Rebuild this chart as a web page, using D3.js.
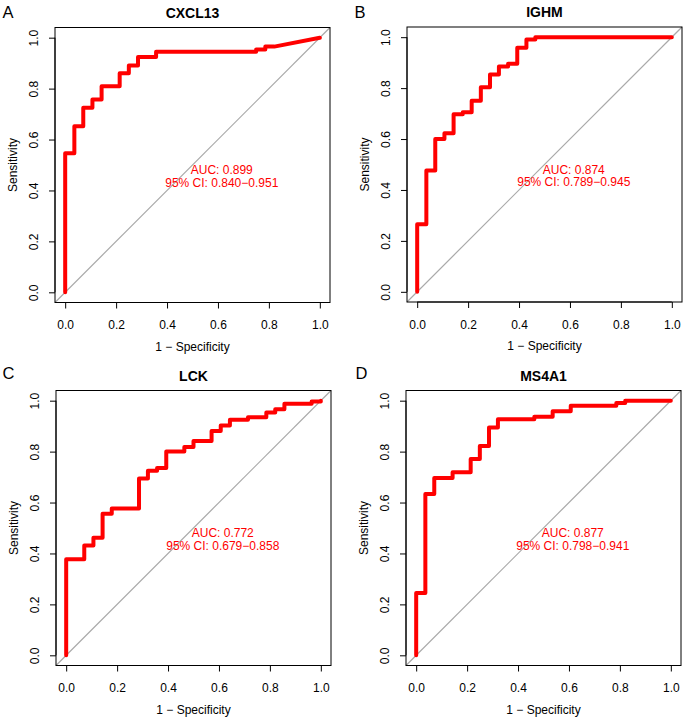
<!DOCTYPE html>
<html>
<head>
<meta charset="utf-8">
<script src="https://cdn.jsdelivr.net/npm/d3@7"></script>
<style>
  html, body { margin: 0; padding: 0; background: #fff; }
  svg { display: block; }
  text { font-family: "Liberation Sans", Arial, Helvetica, sans-serif; }
</style>
</head>
<body>
<div id="chart"></div>
<script>
// ---------- data ----------
const panelLetters = ["A", "B", "C", "D"];
const genes = ["CXCL13", "IGHM", "LCK", "MS4A1"];
const aucLabels = ["AUC: 0.899", "AUC: 0.874", "AUC: 0.772", "AUC: 0.877"];
const ciLabels = ["95% CI: 0.840\u22120.951", "95% CI: 0.789\u22120.945", "95% CI: 0.679\u22120.858", "95% CI: 0.798\u22120.941"];
const tickValues = [0, 0.2, 0.4, 0.6, 0.8, 1.0];
const tickLabels = ["0.0", "0.2", "0.4", "0.6", "0.8", "1.0"];
const xTitle = "1 \u2212 Specificity";
const yTitle = "Sensitivity";

// ROC curve vertices (1 - specificity, sensitivity)
const fprCXCL13 = [0,0,0.036,0.036,0.071,0.071,0.107,0.107,0.143,0.143,0.214,0.214,0.25,0.25,0.286,0.286,0.357,0.357,0.75,0.75,0.786,0.786,0.821,1];
const tprCXCL13 = [0,0.546,0.546,0.652,0.652,0.725,0.725,0.757,0.757,0.809,0.809,0.860,0.860,0.891,0.891,0.924,0.924,0.945,0.945,0.954,0.954,0.965,0.965,1];

const fprIGHM = [0,0,0.036,0.036,0.071,0.071,0.107,0.107,0.143,0.143,0.179,0.179,0.214,0.214,0.25,0.25,0.286,0.286,0.321,0.321,0.357,0.357,0.393,0.393,0.429,0.429,0.464,0.464,1];
const tprIGHM = [0,0.265,0.265,0.476,0.476,0.600,0.600,0.623,0.623,0.697,0.697,0.705,0.705,0.750,0.750,0.803,0.803,0.853,0.853,0.885,0.885,0.896,0.896,0.959,0.959,0.991,0.991,1,1];

const fprLCK = [0,0,0.071,0.071,0.107,0.107,0.143,0.143,0.179,0.179,0.286,0.286,0.321,0.321,0.357,0.357,0.393,0.393,0.464,0.464,0.5,0.5,0.571,0.571,0.607,0.607,0.643,0.643,0.714,0.714,0.786,0.786,0.821,0.821,0.857,0.857,0.964,0.964,1,1];
const tprLCK = [0,0.377,0.377,0.431,0.431,0.462,0.462,0.556,0.556,0.577,0.577,0.694,0.694,0.725,0.725,0.736,0.736,0.800,0.800,0.818,0.818,0.842,0.842,0.881,0.881,0.903,0.903,0.925,0.925,0.935,0.935,0.954,0.954,0.966,0.966,0.988,0.988,0.997,0.997,1];

const fprMS4A1 = [0,0,0.036,0.036,0.071,0.071,0.143,0.143,0.214,0.214,0.25,0.25,0.286,0.286,0.321,0.321,0.464,0.464,0.536,0.536,0.607,0.607,0.786,0.786,0.821,0.821,1];
const tprMS4A1 = [0,0.245,0.245,0.634,0.634,0.696,0.696,0.719,0.719,0.771,0.771,0.822,0.822,0.895,0.895,0.927,0.927,0.937,0.937,0.959,0.959,0.980,0.980,0.991,0.991,1,1];

const fprs = [fprCXCL13, fprIGHM, fprLCK, fprMS4A1];
const tprs = [tprCXCL13, tprIGHM, tprLCK, tprMS4A1];

// ---------- layout ----------
const W = 685, H = 719;
const boxSize = 275;
const boxes = [
  {left: 55, top: 27.5, letterX: 2.5, letterY: 17.5},
  {left: 407, top: 27, letterX: 354.5, letterY: 17.5},
  {left: 56, top: 390.5, letterX: 2.5, letterY: 379},
  {left: 406, top: 390.5, letterX: 355.5, letterY: 379}
];

const svg = d3.select("#chart").append("svg")
  .attr("width", W).attr("height", H)
  .attr("viewBox", `0 0 ${W} ${H}`);

svg.append("rect").attr("width", W).attr("height", H).attr("fill", "#fff");

boxes.forEach((b, i) => {
  const x = d3.scaleLinear().domain([-0.04, 1.04]).range([b.left, b.left + boxSize]);
  const y = d3.scaleLinear().domain([-0.04, 1.04]).range([b.top + boxSize, b.top]);
  const g = svg.append("g");

  // panel letter
  g.append("text").attr("x", b.letterX).attr("y", b.letterY)
    .attr("font-size", 16.5).attr("fill", "#000").text(panelLetters[i]);

  // title
  g.append("text").attr("x", b.left + boxSize / 2).attr("y", b.top - 10)
    .attr("text-anchor", "middle").attr("font-size", 14).attr("font-weight", "bold")
    .attr("fill", "#000").text(genes[i]);

  // diagonal reference line across plot region
  g.append("line")
    .attr("x1", x(-0.04)).attr("y1", y(-0.04))
    .attr("x2", x(1.04)).attr("y2", y(1.04))
    .attr("stroke", "#a9a9a9").attr("stroke-width", 1.2);

  // ROC curve
  const pts = fprs[i].map((f, k) => [f, tprs[i][k]]);
  const line = d3.line().x(d => x(d[0])).y(d => y(d[1]));
  g.append("path").attr("d", line(pts))
    .attr("fill", "none").attr("stroke", "#ff0000").attr("stroke-width", 4)
    .attr("stroke-linejoin", "round").attr("stroke-linecap", "round");

  // AUC text
  g.append("text").attr("x", x(0.615)).attr("y", y(0.463))
    .attr("text-anchor", "middle").attr("font-size", 12).attr("fill", "#ff0000")
    .text(aucLabels[i]);
  g.append("text").attr("x", x(0.615)).attr("y", y(0.414))
    .attr("text-anchor", "middle").attr("font-size", 12).attr("fill", "#ff0000")
    .text(ciLabels[i]);

  // box
  g.append("rect")
    .attr("x", b.left).attr("y", b.top)
    .attr("width", boxSize).attr("height", boxSize)
    .attr("fill", "none").attr("stroke", "#000").attr("stroke-width", 1);

  // x axis
  const xAxis = d3.axisBottom(x).tickValues(tickValues)
    .tickFormat((d, k) => tickLabels[k]).tickSize(6).tickPadding(8);
  const xg = g.append("g").attr("transform", `translate(0,${b.top + boxSize})`).call(xAxis);
  xg.select(".domain").attr("d", `M${x(0)},0H${x(1)}`);
  xg.selectAll("text").attr("font-size", 12).attr("font-family", "Liberation Sans, Arial, sans-serif")
    .attr("fill", "#000").attr("dy", null).attr("y", 26.5);

  // y axis
  const yAxis = d3.axisLeft(y).tickValues(tickValues)
    .tickFormat((d, k) => tickLabels[k]).tickSize(6);
  const yg = g.append("g").attr("transform", `translate(${b.left},0)`).call(yAxis);
  yg.select(".domain").attr("d", `M0,${y(0)}V${y(1)}`);
  yg.selectAll(".tick text")
    .attr("font-size", 12).attr("font-family", "Liberation Sans, Arial, sans-serif")
    .attr("fill", "#000")
    .attr("x", null).attr("dy", null)
    .attr("text-anchor", "middle")
    .attr("transform", "translate(-17.5,0) rotate(-90)");

  // axis titles
  g.append("text").attr("x", b.left + boxSize / 2).attr("y", b.top + boxSize + 48)
    .attr("text-anchor", "middle").attr("font-size", 12).attr("fill", "#000").text(xTitle);
  g.append("text")
    .attr("transform", `translate(${b.left - 38.5},${b.top + boxSize / 2}) rotate(-90)`)
    .attr("text-anchor", "middle").attr("font-size", 12).attr("fill", "#000").text(yTitle);
});
</script>
</body>
</html>
